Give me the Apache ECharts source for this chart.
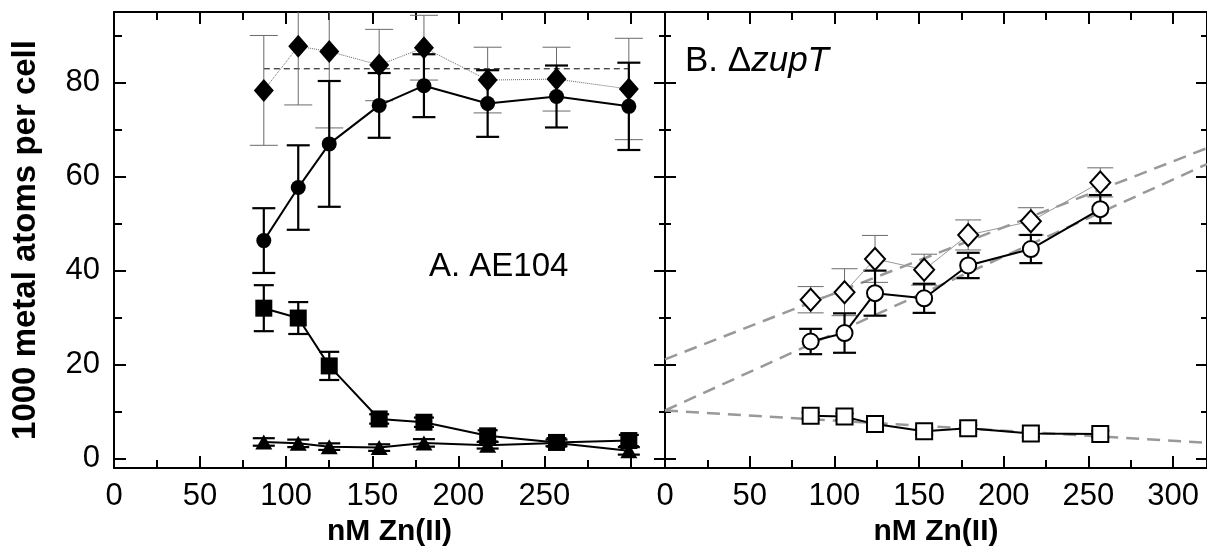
<!DOCTYPE html>
<html>
<head>
<meta charset="utf-8">
<title>Zn(II) uptake</title>
<script src="https://cdn.jsdelivr.net/npm/echarts@6/dist/echarts.min.js"></script>
<style>
  html, body { margin: 0; padding: 0; background: #fff; }
  #chart { width: 1207px; height: 552px; }
</style>
</head>
<body>
<div id="chart"></div>
<script>
// ---- data ----
// panel A: AE104, filled symbols
var xA = [87, 107, 125, 154, 180, 217, 257, 299];
var aDiamond = [78.4, 87.8, 86.7, 83.8, 87.5, 80.6, 80.8, 78.7];
var aDiamondErr = [11.7, 12.5, 16.3, 7.6, 6.9, 7.0, 6.8, 10.8];
var aCircle = [46.4, 57.7, 67.0, 75.2, 79.4, 75.6, 77.1, 75.0];
var aCircleErr = [6.9, 9.0, 13.4, 6.9, 6.7, 7.1, 6.6, 9.3];
var aSquare = [32.0, 29.9, 19.7, 8.4, 7.7, 4.8, 3.4, 3.8];
var aSquareErr = [4.9, 3.4, 3.0, 1.0, 1.0, 1.2, 0.9, 1.2];
var aTriangle = [3.5, 3.2, 2.5, 2.3, 3.3, 2.8, 3.3, 1.6];
var aTriangleErr = [0.8, 0.8, 0.7, 0.7, 0.8, 0.7, 0.7, 0.8];
var aMeanX = [87, 299];
var aMeanY = [83.0, 83.0];

// panel B: ΔzupT, open symbols
var xB = [86, 106, 124, 153, 179, 216, 257];
var bDiamond = [33.8, 35.4, 42.5, 40.2, 47.6, 50.5, 58.8];
var bDiamondErr = [2.8, 5.0, 5.0, 3.3, 3.2, 2.9, 3.1];
var bCircle = [24.9, 26.7, 35.2, 34.1, 41.1, 44.6, 53.1];
var bCircleErr = [2.7, 4.2, 4.8, 3.1, 2.7, 3.0, 3.0];
var bSquare = [9.1, 8.9, 7.3, 5.8, 6.4, 5.3, 5.2];
var bSquareErr = [0.7, 0.7, 0.7, 0.7, 0.7, 0.7, 0.7];
// linear fits (end points)
var fitX = [0, 320];
var fitDiamond = [21.1, 66.1];
var fitCircle = [10.2, 62.7];
var fitSquare = [10.2, 3.3];

// ---- axes ----
var X_MAX = 320, Y_MIN = -2.05, Y_MAX = 95.1;
var xLabelsA = [0, 50, 100, 150, 200, 250];
var xLabelsB = [0, 50, 100, 150, 200, 250, 300];
var xMajor = [0, 50, 100, 150, 200, 250, 300];
var xMinor = [25, 75, 125, 175, 225, 275];
var yLabels = [0, 20, 40, 60, 80];
var yMajor = [0, 20, 40, 60, 80];
var yMinor = [10, 30, 50, 70, 90];

var FONT = '"Liberation Sans", Arial, Helvetica, sans-serif';

function pairs(xs, ys) {
  var out = [];
  for (var i = 0; i < xs.length; i++) out.push([xs[i], ys[i]]);
  return out;
}
function ranges(xs, ys, es) {
  var out = [];
  for (var i = 0; i < xs.length; i++) out.push([xs[i], ys[i] - es[i], ys[i] + es[i]]);
  return out;
}

function xAx(grid, pos, ticks, len, lineOn, labels) {
  return {
    type: 'value', gridIndex: grid, position: pos, min: 0, max: X_MAX,
    axisLine: { show: lineOn, onZero: false, lineStyle: { color: '#000', width: 2 } },
    axisTick: { show: true, inside: true, length: len, customValues: ticks,
      lineStyle: { color: '#000', width: 2 } },
    axisLabel: labels ? { show: true, customValues: labels, margin: 13,
      color: '#000', fontSize: 31, fontFamily: FONT } : { show: false },
    splitLine: { show: false }
  };
}
function yAx(grid, pos, ticks, len, lineOn, labels) {
  return {
    type: 'value', gridIndex: grid, position: pos, min: Y_MIN, max: Y_MAX,
    axisLine: { show: lineOn, onZero: false, lineStyle: { color: '#000', width: 2 } },
    axisTick: { show: true, inside: true, length: len, customValues: ticks,
      lineStyle: { color: '#000', width: 2 } },
    axisLabel: labels ? { show: true, customValues: labels, margin: 14,
      color: '#000', fontSize: 31, fontFamily: FONT } : { show: false },
    splitLine: { show: false }
  };
}

var xAxes = [
  xAx(0, 'bottom', xMajor, 12, true, xLabelsA),
  xAx(0, 'bottom', xMinor, 8, false),
  xAx(0, 'top', xMajor, 12, true),
  xAx(0, 'top', xMinor, 8, false),
  xAx(1, 'bottom', xMajor, 12, true, xLabelsB),
  xAx(1, 'bottom', xMinor, 8, false),
  xAx(1, 'top', xMajor, 12, true),
  xAx(1, 'top', xMinor, 8, false)
];
xAxes[0].name = 'nM Zn(II)';
xAxes[4].name = 'nM Zn(II)';
[0, 4].forEach(function (i) {
  xAxes[i].nameLocation = 'middle';
  xAxes[i].nameGap = 47;
  xAxes[i].nameTextStyle = { color: '#000', fontSize: 30, fontWeight: 'bold', fontFamily: FONT };
});

var yAxes = [
  yAx(0, 'left', yMajor, 12, true, yLabels),
  yAx(0, 'left', yMinor, 8, false),
  yAx(0, 'right', yMajor, 11, true),
  yAx(0, 'right', yMinor, 6, false),
  yAx(1, 'left', yMajor, 11, true),
  yAx(1, 'left', yMinor, 6, false),
  yAx(1, 'right', yMajor, 11, true),
  yAx(1, 'right', yMinor, 6, false)
];
yAxes[0].name = '1000 metal atoms per cell';
yAxes[0].nameLocation = 'middle';
yAxes[0].nameRotate = 90;
yAxes[0].nameGap = 72;
yAxes[0].nameTextStyle = { color: '#000', fontSize: 33, fontWeight: 'bold', fontFamily: FONT };

// ---- series helpers ----
function errorBars(grid, data, capW, color, width) {
  return {
    type: 'custom', xAxisIndex: grid * 4, yAxisIndex: grid * 4, z: 2,
    data: data,
    renderItem: function (params, api) {
      var x = api.value(0), lo = api.value(1), hi = api.value(2);
      var clipped = hi > Y_MAX;
      var top = api.coord([x, clipped ? Y_MAX : hi]);
      var bot = api.coord([x, lo]);
      var half = capW / 2;
      var style = { stroke: color, lineWidth: width, fill: null };
      var kids = [
        { type: 'line', shape: { x1: top[0], y1: top[1], x2: bot[0], y2: bot[1] }, style: style },
        { type: 'line', shape: { x1: bot[0] - half, y1: bot[1], x2: bot[0] + half, y2: bot[1] }, style: style }
      ];
      if (!clipped) {
        kids.push({ type: 'line', shape: { x1: top[0] - half, y1: top[1], x2: top[0] + half, y2: top[1] }, style: style });
      }
      return { type: 'group', children: kids };
    }
  };
}
function markers(grid, data, symbol, size, filled, line) {
  return {
    type: 'line', xAxisIndex: grid * 4, yAxisIndex: grid * 4, z: 3,
    data: data, symbol: symbol, symbolSize: size, showSymbol: true,
    animation: false, silent: true,
    itemStyle: filled ? { color: '#000', borderWidth: 0 }
      : { color: '#fff', borderColor: '#000', borderWidth: 2, opacity: 1 },
    lineStyle: line
  };
}
function plainLine(grid, data, style, z) {
  return {
    type: 'line', xAxisIndex: grid * 4, yAxisIndex: grid * 4, z: z,
    data: data, symbol: 'none', animation: false, silent: true, lineStyle: style
  };
}

var thickBlack = { color: '#000', width: 2 };
var series = [
  // panel A
  plainLine(0, pairs(aMeanX, aMeanY), { color: '#000', width: 1, type: [6, 4] }, 1),
  errorBars(0, ranges(xA, aDiamond, aDiamondErr), 28, '#6a6a6a', 1),
  errorBars(0, ranges(xA, aCircle, aCircleErr), 23, '#000', 2.2),
  errorBars(0, ranges(xA, aSquare, aSquareErr), 20, '#000', 2.2),
  errorBars(0, ranges(xA, aTriangle, aTriangleErr), 22, '#000', 2.2),
  markers(0, pairs(xA, aDiamond), 'diamond', [20, 23], true, { color: '#666', width: 1, type: 'dotted' }),
  markers(0, pairs(xA, aCircle), 'circle', 15, true, thickBlack),
  markers(0, pairs(xA, aSquare), 'rect', 17, true, thickBlack),
  markers(0, pairs(xA, aTriangle), 'triangle', [17, 15], true, thickBlack),
  // panel B
  plainLine(1, pairs(fitX, fitDiamond), { color: '#999', width: 2.5, type: [13, 8] }, 1),
  plainLine(1, pairs(fitX, fitCircle), { color: '#999', width: 2.5, type: [13, 8] }, 1),
  plainLine(1, pairs(fitX, fitSquare), { color: '#999', width: 2.5, type: [13, 8] }, 1),
  errorBars(1, ranges(xB, bDiamond, bDiamondErr), 26, '#6a6a6a', 1),
  errorBars(1, ranges(xB, bCircle, bCircleErr), 23, '#000', 2.2),
  errorBars(1, ranges(xB, bSquare, bSquareErr), 18, '#000', 2),
  markers(1, pairs(xB, bDiamond), 'diamond', [20, 22], false, { color: '#999', width: 1 }),
  markers(1, pairs(xB, bCircle), 'circle', 16, false, thickBlack),
  markers(1, pairs(xB, bSquare), 'rect', 16, false, thickBlack)
];

var chart = echarts.init(document.getElementById('chart'), null, { renderer: 'canvas' });
chart.setOption({
  animation: false,
  backgroundColor: '#fff',
  grid: [
    { left: 114, top: 12, width: 551, height: 456, containLabel: false },
    { left: 665, top: 12, width: 551, height: 456, containLabel: false }
  ],
  xAxis: xAxes,
  yAxis: yAxes,
  series: series,
  graphic: [
    { type: 'text', left: 429, top: 250, z: 10,
      style: { text: 'A. AE104', font: '33px ' + FONT, fill: '#000' } },
    { type: 'text', left: 685, top: 44, z: 10,
      style: {
        text: '{r|B. Δ}{i|zupT}',
        rich: {
          r: { font: '35px ' + FONT, fill: '#000' },
          i: { font: 'italic 35px ' + FONT, fill: '#000' }
        }
      } }
  ]
});
</script>
</body>
</html>
